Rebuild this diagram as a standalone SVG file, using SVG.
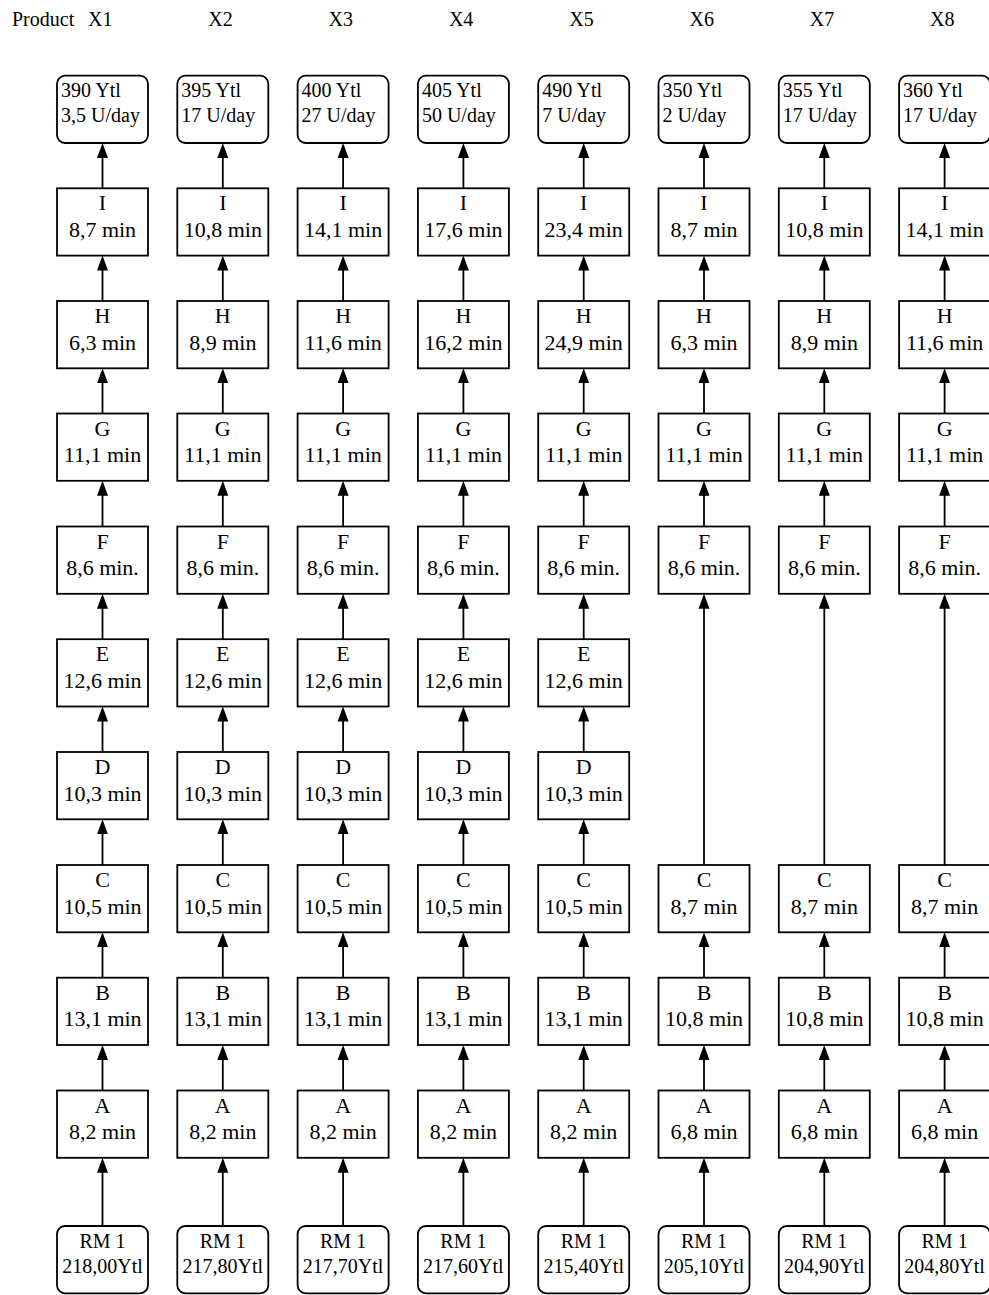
<svg xmlns="http://www.w3.org/2000/svg" width="989" height="1295" viewBox="0 0 989 1295">
<style>
text{fill:#000}
.h{font-size:20px}
.t{font-size:20px}
.r{font-size:22px;text-anchor:middle}
.m{font-size:20px;text-anchor:middle}
.bx{fill:#fff;stroke:#000;stroke-width:1.8}
.c line{stroke:#000;stroke-width:1.8;marker-end:url(#ah)}
</style>
<defs>
<marker id="ah" markerUnits="userSpaceOnUse" markerWidth="16" markerHeight="12" refX="10" refY="6" orient="auto" viewBox="0 0 16 12">
<path d="M0,0.5 L15,6 L0,11.5 z" fill="#000"/>
</marker>
</defs>
<rect width="989" height="1295" fill="#fff"/>
<g font-family="'Liberation Serif', 'DejaVu Serif', serif">
<g id="headers" class="h">
<text x="12" y="26">Product</text>
<text x="88" y="26">X1</text>
<text x="208.3" y="26">X2</text>
<text x="328.6" y="26">X3</text>
<text x="448.9" y="26">X4</text>
<text x="569.2" y="26">X5</text>
<text x="689.5" y="26">X6</text>
<text x="809.8" y="26">X7</text>
<text x="930.1" y="26">X8</text>
</g>
<g id="connectors" class="c">
<line x1="102.5" y1="188.3" x2="102.5" y2="148"/>
<line x1="102.5" y1="301" x2="102.5" y2="260.6"/>
<line x1="102.5" y1="413.5" x2="102.5" y2="373.3"/>
<line x1="102.5" y1="526.5" x2="102.5" y2="485.8"/>
<line x1="102.5" y1="639.2" x2="102.5" y2="598.8"/>
<line x1="102.5" y1="752" x2="102.5" y2="711.5"/>
<line x1="102.5" y1="865" x2="102.5" y2="824.3"/>
<line x1="102.5" y1="977.7" x2="102.5" y2="937.3"/>
<line x1="102.5" y1="1090.5" x2="102.5" y2="1050"/>
<line x1="102.5" y1="1226" x2="102.5" y2="1162.8"/>
<line x1="222.8" y1="188.3" x2="222.8" y2="148"/>
<line x1="222.8" y1="301" x2="222.8" y2="260.6"/>
<line x1="222.8" y1="413.5" x2="222.8" y2="373.3"/>
<line x1="222.8" y1="526.5" x2="222.8" y2="485.8"/>
<line x1="222.8" y1="639.2" x2="222.8" y2="598.8"/>
<line x1="222.8" y1="752" x2="222.8" y2="711.5"/>
<line x1="222.8" y1="865" x2="222.8" y2="824.3"/>
<line x1="222.8" y1="977.7" x2="222.8" y2="937.3"/>
<line x1="222.8" y1="1090.5" x2="222.8" y2="1050"/>
<line x1="222.8" y1="1226" x2="222.8" y2="1162.8"/>
<line x1="343.1" y1="188.3" x2="343.1" y2="148"/>
<line x1="343.1" y1="301" x2="343.1" y2="260.6"/>
<line x1="343.1" y1="413.5" x2="343.1" y2="373.3"/>
<line x1="343.1" y1="526.5" x2="343.1" y2="485.8"/>
<line x1="343.1" y1="639.2" x2="343.1" y2="598.8"/>
<line x1="343.1" y1="752" x2="343.1" y2="711.5"/>
<line x1="343.1" y1="865" x2="343.1" y2="824.3"/>
<line x1="343.1" y1="977.7" x2="343.1" y2="937.3"/>
<line x1="343.1" y1="1090.5" x2="343.1" y2="1050"/>
<line x1="343.1" y1="1226" x2="343.1" y2="1162.8"/>
<line x1="463.4" y1="188.3" x2="463.4" y2="148"/>
<line x1="463.4" y1="301" x2="463.4" y2="260.6"/>
<line x1="463.4" y1="413.5" x2="463.4" y2="373.3"/>
<line x1="463.4" y1="526.5" x2="463.4" y2="485.8"/>
<line x1="463.4" y1="639.2" x2="463.4" y2="598.8"/>
<line x1="463.4" y1="752" x2="463.4" y2="711.5"/>
<line x1="463.4" y1="865" x2="463.4" y2="824.3"/>
<line x1="463.4" y1="977.7" x2="463.4" y2="937.3"/>
<line x1="463.4" y1="1090.5" x2="463.4" y2="1050"/>
<line x1="463.4" y1="1226" x2="463.4" y2="1162.8"/>
<line x1="583.7" y1="188.3" x2="583.7" y2="148"/>
<line x1="583.7" y1="301" x2="583.7" y2="260.6"/>
<line x1="583.7" y1="413.5" x2="583.7" y2="373.3"/>
<line x1="583.7" y1="526.5" x2="583.7" y2="485.8"/>
<line x1="583.7" y1="639.2" x2="583.7" y2="598.8"/>
<line x1="583.7" y1="752" x2="583.7" y2="711.5"/>
<line x1="583.7" y1="865" x2="583.7" y2="824.3"/>
<line x1="583.7" y1="977.7" x2="583.7" y2="937.3"/>
<line x1="583.7" y1="1090.5" x2="583.7" y2="1050"/>
<line x1="583.7" y1="1226" x2="583.7" y2="1162.8"/>
<line x1="704" y1="188.3" x2="704" y2="148"/>
<line x1="704" y1="301" x2="704" y2="260.6"/>
<line x1="704" y1="413.5" x2="704" y2="373.3"/>
<line x1="704" y1="526.5" x2="704" y2="485.8"/>
<line x1="704" y1="865" x2="704" y2="598.8"/>
<line x1="704" y1="977.7" x2="704" y2="937.3"/>
<line x1="704" y1="1090.5" x2="704" y2="1050"/>
<line x1="704" y1="1226" x2="704" y2="1162.8"/>
<line x1="824.3" y1="188.3" x2="824.3" y2="148"/>
<line x1="824.3" y1="301" x2="824.3" y2="260.6"/>
<line x1="824.3" y1="413.5" x2="824.3" y2="373.3"/>
<line x1="824.3" y1="526.5" x2="824.3" y2="485.8"/>
<line x1="824.3" y1="865" x2="824.3" y2="598.8"/>
<line x1="824.3" y1="977.7" x2="824.3" y2="937.3"/>
<line x1="824.3" y1="1090.5" x2="824.3" y2="1050"/>
<line x1="824.3" y1="1226" x2="824.3" y2="1162.8"/>
<line x1="944.6" y1="188.3" x2="944.6" y2="148"/>
<line x1="944.6" y1="301" x2="944.6" y2="260.6"/>
<line x1="944.6" y1="413.5" x2="944.6" y2="373.3"/>
<line x1="944.6" y1="526.5" x2="944.6" y2="485.8"/>
<line x1="944.6" y1="865" x2="944.6" y2="598.8"/>
<line x1="944.6" y1="977.7" x2="944.6" y2="937.3"/>
<line x1="944.6" y1="1090.5" x2="944.6" y2="1050"/>
<line x1="944.6" y1="1226" x2="944.6" y2="1162.8"/>
</g>

<g id="x1-out"><rect class="bx" x="57" y="75.7" width="91" height="67.3" rx="8"/><text class="t" x="61" y="96.7">390 Ytl</text><text class="t" x="61" y="121.7">3,5 U/day</text></g>
<g id="x1-I"><rect class="bx" x="57" y="188.3" width="91" height="67.3"/><text class="r" x="102.5" y="210.3">I</text><text class="r" x="102.5" y="236.8">8,7 min</text></g>
<g id="x1-H"><rect class="bx" x="57" y="301" width="91" height="67.3"/><text class="r" x="102.5" y="323">H</text><text class="r" x="102.5" y="349.5">6,3 min</text></g>
<g id="x1-G"><rect class="bx" x="57" y="413.5" width="91" height="67.3"/><text class="r" x="102.5" y="435.5">G</text><text class="r" x="102.5" y="462">11,1 min</text></g>
<g id="x1-F"><rect class="bx" x="57" y="526.5" width="91" height="67.3"/><text class="r" x="102.5" y="548.5">F</text><text class="r" x="102.5" y="575">8,6 min.</text></g>
<g id="x1-E"><rect class="bx" x="57" y="639.2" width="91" height="67.3"/><text class="r" x="102.5" y="661.2">E</text><text class="r" x="102.5" y="687.7">12,6 min</text></g>
<g id="x1-D"><rect class="bx" x="57" y="752" width="91" height="67.3"/><text class="r" x="102.5" y="774">D</text><text class="r" x="102.5" y="800.5">10,3 min</text></g>
<g id="x1-C"><rect class="bx" x="57" y="865" width="91" height="67.3"/><text class="r" x="102.5" y="887">C</text><text class="r" x="102.5" y="913.5">10,5 min</text></g>
<g id="x1-B"><rect class="bx" x="57" y="977.7" width="91" height="67.3"/><text class="r" x="102.5" y="999.7">B</text><text class="r" x="102.5" y="1026.2">13,1 min</text></g>
<g id="x1-A"><rect class="bx" x="57" y="1090.5" width="91" height="67.3"/><text class="r" x="102.5" y="1112.5">A</text><text class="r" x="102.5" y="1139">8,2 min</text></g>
<g id="x1-RM"><rect class="bx" x="57" y="1226" width="91" height="67.3" rx="8"/><text class="m" x="102.5" y="1247.7">RM 1</text><text class="m" x="102.5" y="1273.3">218,00Ytl</text></g>

<g id="x2-out"><rect class="bx" x="177.3" y="75.7" width="91" height="67.3" rx="8"/><text class="t" x="181.3" y="96.7">395 Ytl</text><text class="t" x="181.3" y="121.7">17 U/day</text></g>
<g id="x2-I"><rect class="bx" x="177.3" y="188.3" width="91" height="67.3"/><text class="r" x="222.8" y="210.3">I</text><text class="r" x="222.8" y="236.8">10,8 min</text></g>
<g id="x2-H"><rect class="bx" x="177.3" y="301" width="91" height="67.3"/><text class="r" x="222.8" y="323">H</text><text class="r" x="222.8" y="349.5">8,9 min</text></g>
<g id="x2-G"><rect class="bx" x="177.3" y="413.5" width="91" height="67.3"/><text class="r" x="222.8" y="435.5">G</text><text class="r" x="222.8" y="462">11,1 min</text></g>
<g id="x2-F"><rect class="bx" x="177.3" y="526.5" width="91" height="67.3"/><text class="r" x="222.8" y="548.5">F</text><text class="r" x="222.8" y="575">8,6 min.</text></g>
<g id="x2-E"><rect class="bx" x="177.3" y="639.2" width="91" height="67.3"/><text class="r" x="222.8" y="661.2">E</text><text class="r" x="222.8" y="687.7">12,6 min</text></g>
<g id="x2-D"><rect class="bx" x="177.3" y="752" width="91" height="67.3"/><text class="r" x="222.8" y="774">D</text><text class="r" x="222.8" y="800.5">10,3 min</text></g>
<g id="x2-C"><rect class="bx" x="177.3" y="865" width="91" height="67.3"/><text class="r" x="222.8" y="887">C</text><text class="r" x="222.8" y="913.5">10,5 min</text></g>
<g id="x2-B"><rect class="bx" x="177.3" y="977.7" width="91" height="67.3"/><text class="r" x="222.8" y="999.7">B</text><text class="r" x="222.8" y="1026.2">13,1 min</text></g>
<g id="x2-A"><rect class="bx" x="177.3" y="1090.5" width="91" height="67.3"/><text class="r" x="222.8" y="1112.5">A</text><text class="r" x="222.8" y="1139">8,2 min</text></g>
<g id="x2-RM"><rect class="bx" x="177.3" y="1226" width="91" height="67.3" rx="8"/><text class="m" x="222.8" y="1247.7">RM 1</text><text class="m" x="222.8" y="1273.3">217,80Ytl</text></g>

<g id="x3-out"><rect class="bx" x="297.6" y="75.7" width="91" height="67.3" rx="8"/><text class="t" x="301.6" y="96.7">400 Ytl</text><text class="t" x="301.6" y="121.7">27 U/day</text></g>
<g id="x3-I"><rect class="bx" x="297.6" y="188.3" width="91" height="67.3"/><text class="r" x="343.1" y="210.3">I</text><text class="r" x="343.1" y="236.8">14,1 min</text></g>
<g id="x3-H"><rect class="bx" x="297.6" y="301" width="91" height="67.3"/><text class="r" x="343.1" y="323">H</text><text class="r" x="343.1" y="349.5">11,6 min</text></g>
<g id="x3-G"><rect class="bx" x="297.6" y="413.5" width="91" height="67.3"/><text class="r" x="343.1" y="435.5">G</text><text class="r" x="343.1" y="462">11,1 min</text></g>
<g id="x3-F"><rect class="bx" x="297.6" y="526.5" width="91" height="67.3"/><text class="r" x="343.1" y="548.5">F</text><text class="r" x="343.1" y="575">8,6 min.</text></g>
<g id="x3-E"><rect class="bx" x="297.6" y="639.2" width="91" height="67.3"/><text class="r" x="343.1" y="661.2">E</text><text class="r" x="343.1" y="687.7">12,6 min</text></g>
<g id="x3-D"><rect class="bx" x="297.6" y="752" width="91" height="67.3"/><text class="r" x="343.1" y="774">D</text><text class="r" x="343.1" y="800.5">10,3 min</text></g>
<g id="x3-C"><rect class="bx" x="297.6" y="865" width="91" height="67.3"/><text class="r" x="343.1" y="887">C</text><text class="r" x="343.1" y="913.5">10,5 min</text></g>
<g id="x3-B"><rect class="bx" x="297.6" y="977.7" width="91" height="67.3"/><text class="r" x="343.1" y="999.7">B</text><text class="r" x="343.1" y="1026.2">13,1 min</text></g>
<g id="x3-A"><rect class="bx" x="297.6" y="1090.5" width="91" height="67.3"/><text class="r" x="343.1" y="1112.5">A</text><text class="r" x="343.1" y="1139">8,2 min</text></g>
<g id="x3-RM"><rect class="bx" x="297.6" y="1226" width="91" height="67.3" rx="8"/><text class="m" x="343.1" y="1247.7">RM 1</text><text class="m" x="343.1" y="1273.3">217,70Ytl</text></g>

<g id="x4-out"><rect class="bx" x="417.9" y="75.7" width="91" height="67.3" rx="8"/><text class="t" x="421.9" y="96.7">405 Ytl</text><text class="t" x="421.9" y="121.7">50 U/day</text></g>
<g id="x4-I"><rect class="bx" x="417.9" y="188.3" width="91" height="67.3"/><text class="r" x="463.4" y="210.3">I</text><text class="r" x="463.4" y="236.8">17,6 min</text></g>
<g id="x4-H"><rect class="bx" x="417.9" y="301" width="91" height="67.3"/><text class="r" x="463.4" y="323">H</text><text class="r" x="463.4" y="349.5">16,2 min</text></g>
<g id="x4-G"><rect class="bx" x="417.9" y="413.5" width="91" height="67.3"/><text class="r" x="463.4" y="435.5">G</text><text class="r" x="463.4" y="462">11,1 min</text></g>
<g id="x4-F"><rect class="bx" x="417.9" y="526.5" width="91" height="67.3"/><text class="r" x="463.4" y="548.5">F</text><text class="r" x="463.4" y="575">8,6 min.</text></g>
<g id="x4-E"><rect class="bx" x="417.9" y="639.2" width="91" height="67.3"/><text class="r" x="463.4" y="661.2">E</text><text class="r" x="463.4" y="687.7">12,6 min</text></g>
<g id="x4-D"><rect class="bx" x="417.9" y="752" width="91" height="67.3"/><text class="r" x="463.4" y="774">D</text><text class="r" x="463.4" y="800.5">10,3 min</text></g>
<g id="x4-C"><rect class="bx" x="417.9" y="865" width="91" height="67.3"/><text class="r" x="463.4" y="887">C</text><text class="r" x="463.4" y="913.5">10,5 min</text></g>
<g id="x4-B"><rect class="bx" x="417.9" y="977.7" width="91" height="67.3"/><text class="r" x="463.4" y="999.7">B</text><text class="r" x="463.4" y="1026.2">13,1 min</text></g>
<g id="x4-A"><rect class="bx" x="417.9" y="1090.5" width="91" height="67.3"/><text class="r" x="463.4" y="1112.5">A</text><text class="r" x="463.4" y="1139">8,2 min</text></g>
<g id="x4-RM"><rect class="bx" x="417.9" y="1226" width="91" height="67.3" rx="8"/><text class="m" x="463.4" y="1247.7">RM 1</text><text class="m" x="463.4" y="1273.3">217,60Ytl</text></g>

<g id="x5-out"><rect class="bx" x="538.2" y="75.7" width="91" height="67.3" rx="8"/><text class="t" x="542.2" y="96.7">490 Ytl</text><text class="t" x="542.2" y="121.7">7 U/day</text></g>
<g id="x5-I"><rect class="bx" x="538.2" y="188.3" width="91" height="67.3"/><text class="r" x="583.7" y="210.3">I</text><text class="r" x="583.7" y="236.8">23,4 min</text></g>
<g id="x5-H"><rect class="bx" x="538.2" y="301" width="91" height="67.3"/><text class="r" x="583.7" y="323">H</text><text class="r" x="583.7" y="349.5">24,9 min</text></g>
<g id="x5-G"><rect class="bx" x="538.2" y="413.5" width="91" height="67.3"/><text class="r" x="583.7" y="435.5">G</text><text class="r" x="583.7" y="462">11,1 min</text></g>
<g id="x5-F"><rect class="bx" x="538.2" y="526.5" width="91" height="67.3"/><text class="r" x="583.7" y="548.5">F</text><text class="r" x="583.7" y="575">8,6 min.</text></g>
<g id="x5-E"><rect class="bx" x="538.2" y="639.2" width="91" height="67.3"/><text class="r" x="583.7" y="661.2">E</text><text class="r" x="583.7" y="687.7">12,6 min</text></g>
<g id="x5-D"><rect class="bx" x="538.2" y="752" width="91" height="67.3"/><text class="r" x="583.7" y="774">D</text><text class="r" x="583.7" y="800.5">10,3 min</text></g>
<g id="x5-C"><rect class="bx" x="538.2" y="865" width="91" height="67.3"/><text class="r" x="583.7" y="887">C</text><text class="r" x="583.7" y="913.5">10,5 min</text></g>
<g id="x5-B"><rect class="bx" x="538.2" y="977.7" width="91" height="67.3"/><text class="r" x="583.7" y="999.7">B</text><text class="r" x="583.7" y="1026.2">13,1 min</text></g>
<g id="x5-A"><rect class="bx" x="538.2" y="1090.5" width="91" height="67.3"/><text class="r" x="583.7" y="1112.5">A</text><text class="r" x="583.7" y="1139">8,2 min</text></g>
<g id="x5-RM"><rect class="bx" x="538.2" y="1226" width="91" height="67.3" rx="8"/><text class="m" x="583.7" y="1247.7">RM 1</text><text class="m" x="583.7" y="1273.3">215,40Ytl</text></g>

<g id="x6-out"><rect class="bx" x="658.5" y="75.7" width="91" height="67.3" rx="8"/><text class="t" x="662.5" y="96.7">350 Ytl</text><text class="t" x="662.5" y="121.7">2 U/day</text></g>
<g id="x6-I"><rect class="bx" x="658.5" y="188.3" width="91" height="67.3"/><text class="r" x="704" y="210.3">I</text><text class="r" x="704" y="236.8">8,7 min</text></g>
<g id="x6-H"><rect class="bx" x="658.5" y="301" width="91" height="67.3"/><text class="r" x="704" y="323">H</text><text class="r" x="704" y="349.5">6,3 min</text></g>
<g id="x6-G"><rect class="bx" x="658.5" y="413.5" width="91" height="67.3"/><text class="r" x="704" y="435.5">G</text><text class="r" x="704" y="462">11,1 min</text></g>
<g id="x6-F"><rect class="bx" x="658.5" y="526.5" width="91" height="67.3"/><text class="r" x="704" y="548.5">F</text><text class="r" x="704" y="575">8,6 min.</text></g>
<g id="x6-C"><rect class="bx" x="658.5" y="865" width="91" height="67.3"/><text class="r" x="704" y="887">C</text><text class="r" x="704" y="913.5">8,7 min</text></g>
<g id="x6-B"><rect class="bx" x="658.5" y="977.7" width="91" height="67.3"/><text class="r" x="704" y="999.7">B</text><text class="r" x="704" y="1026.2">10,8 min</text></g>
<g id="x6-A"><rect class="bx" x="658.5" y="1090.5" width="91" height="67.3"/><text class="r" x="704" y="1112.5">A</text><text class="r" x="704" y="1139">6,8 min</text></g>
<g id="x6-RM"><rect class="bx" x="658.5" y="1226" width="91" height="67.3" rx="8"/><text class="m" x="704" y="1247.7">RM 1</text><text class="m" x="704" y="1273.3">205,10Ytl</text></g>

<g id="x7-out"><rect class="bx" x="778.8" y="75.7" width="91" height="67.3" rx="8"/><text class="t" x="782.8" y="96.7">355 Ytl</text><text class="t" x="782.8" y="121.7">17 U/day</text></g>
<g id="x7-I"><rect class="bx" x="778.8" y="188.3" width="91" height="67.3"/><text class="r" x="824.3" y="210.3">I</text><text class="r" x="824.3" y="236.8">10,8 min</text></g>
<g id="x7-H"><rect class="bx" x="778.8" y="301" width="91" height="67.3"/><text class="r" x="824.3" y="323">H</text><text class="r" x="824.3" y="349.5">8,9 min</text></g>
<g id="x7-G"><rect class="bx" x="778.8" y="413.5" width="91" height="67.3"/><text class="r" x="824.3" y="435.5">G</text><text class="r" x="824.3" y="462">11,1 min</text></g>
<g id="x7-F"><rect class="bx" x="778.8" y="526.5" width="91" height="67.3"/><text class="r" x="824.3" y="548.5">F</text><text class="r" x="824.3" y="575">8,6 min.</text></g>
<g id="x7-C"><rect class="bx" x="778.8" y="865" width="91" height="67.3"/><text class="r" x="824.3" y="887">C</text><text class="r" x="824.3" y="913.5">8,7 min</text></g>
<g id="x7-B"><rect class="bx" x="778.8" y="977.7" width="91" height="67.3"/><text class="r" x="824.3" y="999.7">B</text><text class="r" x="824.3" y="1026.2">10,8 min</text></g>
<g id="x7-A"><rect class="bx" x="778.8" y="1090.5" width="91" height="67.3"/><text class="r" x="824.3" y="1112.5">A</text><text class="r" x="824.3" y="1139">6,8 min</text></g>
<g id="x7-RM"><rect class="bx" x="778.8" y="1226" width="91" height="67.3" rx="8"/><text class="m" x="824.3" y="1247.7">RM 1</text><text class="m" x="824.3" y="1273.3">204,90Ytl</text></g>

<g id="x8-out"><rect class="bx" x="899.1" y="75.7" width="91" height="67.3" rx="8"/><text class="t" x="903.1" y="96.7">360 Ytl</text><text class="t" x="903.1" y="121.7">17 U/day</text></g>
<g id="x8-I"><rect class="bx" x="899.1" y="188.3" width="91" height="67.3"/><text class="r" x="944.6" y="210.3">I</text><text class="r" x="944.6" y="236.8">14,1 min</text></g>
<g id="x8-H"><rect class="bx" x="899.1" y="301" width="91" height="67.3"/><text class="r" x="944.6" y="323">H</text><text class="r" x="944.6" y="349.5">11,6 min</text></g>
<g id="x8-G"><rect class="bx" x="899.1" y="413.5" width="91" height="67.3"/><text class="r" x="944.6" y="435.5">G</text><text class="r" x="944.6" y="462">11,1 min</text></g>
<g id="x8-F"><rect class="bx" x="899.1" y="526.5" width="91" height="67.3"/><text class="r" x="944.6" y="548.5">F</text><text class="r" x="944.6" y="575">8,6 min.</text></g>
<g id="x8-C"><rect class="bx" x="899.1" y="865" width="91" height="67.3"/><text class="r" x="944.6" y="887">C</text><text class="r" x="944.6" y="913.5">8,7 min</text></g>
<g id="x8-B"><rect class="bx" x="899.1" y="977.7" width="91" height="67.3"/><text class="r" x="944.6" y="999.7">B</text><text class="r" x="944.6" y="1026.2">10,8 min</text></g>
<g id="x8-A"><rect class="bx" x="899.1" y="1090.5" width="91" height="67.3"/><text class="r" x="944.6" y="1112.5">A</text><text class="r" x="944.6" y="1139">6,8 min</text></g>
<g id="x8-RM"><rect class="bx" x="899.1" y="1226" width="91" height="67.3" rx="8"/><text class="m" x="944.6" y="1247.7">RM 1</text><text class="m" x="944.6" y="1273.3">204,80Ytl</text></g>
</g>
</svg>
